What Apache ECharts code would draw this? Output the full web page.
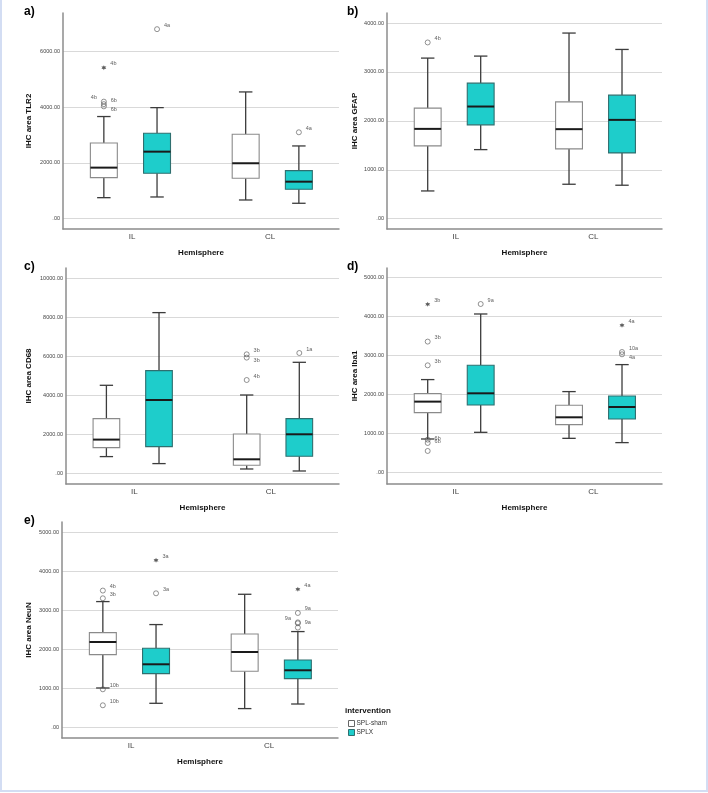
<!DOCTYPE html>
<html>
<head>
<meta charset="utf-8">
<script src="https://cdn.jsdelivr.net/npm/echarts@6/dist/echarts.min.js"></script>
<style>
  html, body { margin: 0; padding: 0; background: #fff; }
  #chart { width: 708px; height: 793px; }
</style>
</head>
<body>
<div id="chart"></div>
<script>
var hemispheres = ['IL', 'CL'];
var groups = ['SPL-sham', 'SPLX'];

// box stats [min, Q1, median, Q3, max], one row per hemisphere (IL, CL)
var tlr2Sham = [[754, 1473, 1832, 2718, 3665], [671, 1450, 1989, 3030, 4548]];
var tlr2Splx = [[779, 1630, 2405, 3066, 3985], [553, 1055, 1328, 1723, 2610]];
var gfapSham = [[567, 1488, 1836, 2260, 3283], [704, 1427, 1830, 2389, 3795]];
var gfapSplx = [[1412, 1918, 2293, 2771, 3324], [684, 1345, 2020, 2526, 3460]];
var cd68Sham = [[843, 1306, 1717, 2797, 4509], [206, 396, 704, 2005, 4010]];
var cd68Splx = [[483, 1357, 3753, 5264, 8246], [103, 859, 1990, 2797, 5691]];
var iba1Sham = [[862, 1538, 1820, 2026, 2385], [879, 1231, 1418, 1726, 2077]];
var iba1Splx = [[1033, 1733, 2033, 2751, 4067], [769, 1374, 1682, 1964, 2769]];
var neunSham = [[1003, 1861, 2185, 2427, 3224], [473, 1432, 1928, 2391, 3412]];
var neunSplx = [[609, 1373, 1612, 2023, 2633], [591, 1244, 1458, 1723, 2453]];

// outliers: [hemisphere, group, value, case tag, kind ('o' outlier, '*' extreme)]
var tlr2Out = [
  ['IL', 'SPL-sham', 5420, '4b', '*'], ['IL', 'SPL-sham', 4200, '4b', 'o'],
  ['IL', 'SPL-sham', 4110, '6b', 'o'], ['IL', 'SPL-sham', 4030, '6b', 'o'],
  ['IL', 'SPLX', 6800, '4a', 'o'], ['CL', 'SPLX', 3100, '4a', 'o']
];
var gfapOut = [['IL', 'SPL-sham', 3603, '4b', 'o']];
var cd68Out = [
  ['CL', 'SPL-sham', 6102, '3b', 'o'], ['CL', 'SPL-sham', 5932, '3b', 'o'],
  ['CL', 'SPL-sham', 4781, '4b', 'o'], ['CL', 'SPLX', 6169, '1a', 'o']
];
var iba1Out = [
  ['IL', 'SPL-sham', 4315, '3b', '*'], ['IL', 'SPL-sham', 3359, '3b', 'o'],
  ['IL', 'SPL-sham', 2751, '3b', 'o'], ['IL', 'SPL-sham', 845, '6b', 'o'],
  ['IL', 'SPL-sham', 760, '6b', 'o'], ['IL', 'SPL-sham', 555, '', 'o'],
  ['IL', 'SPLX', 4323, '9a', 'o'],
  ['CL', 'SPLX', 3777, '4a', '*'], ['CL', 'SPLX', 3092, '10a', 'o'],
  ['CL', 'SPLX', 3033, '4a', 'o']
];
var neunOut = [
  ['IL', 'SPL-sham', 3507, '4b', 'o'], ['IL', 'SPL-sham', 3309, '3b', 'o'],
  ['IL', 'SPL-sham', 969, '10b', 'o'], ['IL', 'SPL-sham', 558, '10b', 'o'],
  ['IL', 'SPLX', 4286, '3a', '*'], ['IL', 'SPLX', 3437, '3a', 'o'],
  ['CL', 'SPLX', 3540, '4a', '*'], ['CL', 'SPLX', 2931, '9a', 'o'],
  ['CL', 'SPLX', 2690, '9a', 'o'], ['CL', 'SPLX', 2666, '9a', 'o'],
  ['CL', 'SPLX', 2555, '', 'o']
];

// y axis ticks and extents
var tlr2Ticks = [0, 2000, 4000, 6000];
var gfapTicks = [0, 1000, 2000, 3000, 4000];
var cd68Ticks = [0, 2000, 4000, 6000, 8000, 10000];
var iba1Ticks = [0, 1000, 2000, 3000, 4000, 5000];
var neunTicks = [0, 1000, 2000, 3000, 4000, 5000];
var tlr2Range = [-370, 7380];
var gfapRange = [-211, 4205];
var cd68Range = [-566, 10540];
var iba1Range = [-292, 5246];
var neunRange = [-283, 5270];

// tag placement for crowded labels: L = left, D = below right, M = level right (default above right)
var tagSide = { 'a:4200': 'L', 'a:4030': 'D', 'c:5932': 'D', 'd:3033': 'D',
  'd:845': 'M', 'd:760': 'M', 'e:2690': 'L', 'e:2666': 'M' };

var panels = [
  { key: 'a', name: 'IHC area TLR2', sham: tlr2Sham, splx: tlr2Splx, out: tlr2Out, ticks: tlr2Ticks, range: tlr2Range,
    grid: { left: 63, top: 13, width: 276, height: 216 }, gap: 30 },
  { key: 'b', name: 'IHC area GFAP', sham: gfapSham, splx: gfapSplx, out: gfapOut, ticks: gfapTicks, range: gfapRange,
    grid: { left: 387, top: 13, width: 275, height: 216 }, gap: 28 },
  { key: 'c', name: 'IHC area CD68', sham: cd68Sham, splx: cd68Splx, out: cd68Out, ticks: cd68Ticks, range: cd68Range,
    grid: { left: 66, top: 268, width: 273, height: 216 }, gap: 33 },
  { key: 'd', name: 'IHC area Iba1', sham: iba1Sham, splx: iba1Splx, out: iba1Out, ticks: iba1Ticks, range: iba1Range,
    grid: { left: 387, top: 268, width: 275, height: 216 }, gap: 28 },
  { key: 'e', name: 'IHC area NeuN', sham: neunSham, splx: neunSplx, out: neunOut, ticks: neunTicks, range: neunRange,
    grid: { left: 62, top: 522, width: 276, height: 216 }, gap: 29 }
];

var FONT = '"Liberation Sans", Arial, sans-serif';
var TEAL = '#1ecdcb';
var BOX_W = 0.19;             // box width in hidden x units
var OFFSET = { 'SPL-sham': -0.185, 'SPLX': 0.19 };
var STAR = 'path://M0,-10L2.4,-4.2L8.7,-5L4.8,0L8.7,5L2.4,4.2L0,10L-2.4,4.2L-8.7,5L-4.8,0L-8.7,-5L-2.4,-4.2Z';

function renderBox(params, api) {
  var x = api.value(0);
  var lo = api.coord([x, api.value(1)]);
  var q1 = api.coord([x, api.value(2)]);
  var md = api.coord([x, api.value(3)]);
  var q3 = api.coord([x, api.value(4)]);
  var hi = api.coord([x, api.value(5)]);
  var w = api.size([BOX_W, 0])[0];
  var cx = lo[0];
  var cap = w / 4;
  var isSham = params.seriesName === 'SPL-sham';
  var wStyle = { stroke: '#3c3c3c', lineWidth: 1.3 };
  return {
    type: 'group',
    children: [
      { type: 'line', shape: { x1: cx, y1: lo[1], x2: cx, y2: q1[1] }, style: wStyle },
      { type: 'line', shape: { x1: cx, y1: q3[1], x2: cx, y2: hi[1] }, style: wStyle },
      { type: 'line', shape: { x1: cx - cap, y1: lo[1], x2: cx + cap, y2: lo[1] }, style: wStyle },
      { type: 'line', shape: { x1: cx - cap, y1: hi[1], x2: cx + cap, y2: hi[1] }, style: wStyle },
      { type: 'rect', shape: { x: cx - w / 2, y: q3[1], width: w, height: q1[1] - q3[1] },
        style: { fill: isSham ? '#fff' : TEAL, stroke: isSham ? '#8a8a8a' : '#2f6f6f', lineWidth: 1.1 } },
      { type: 'line', shape: { x1: cx - w / 2, y1: md[1], x2: cx + w / 2, y2: md[1] },
        style: { stroke: '#1a1a1a', lineWidth: 2 } }
    ]
  };
}

function tickFmt(v) {
  return v === 0 ? '.00' : v.toFixed(2);
}

var option = {
  animation: false,
  backgroundColor: '#fff',
  textStyle: { fontFamily: FONT },
  grid: [], xAxis: [], yAxis: [], series: [],
  legend: {
    orient: 'vertical', left: 348, top: 720, padding: 0,
    itemWidth: 6, itemHeight: 6, itemGap: 2, selectedMode: false,
    textStyle: { fontSize: 6.5, color: '#333', fontFamily: FONT, padding: [0, 0, 0, -3] },
    data: [
      { name: 'SPL-sham', icon: 'rect', itemStyle: { color: '#fff', borderColor: '#666', borderWidth: 1 } },
      { name: 'SPLX', icon: 'rect', itemStyle: { color: TEAL, borderColor: '#2f6f6f', borderWidth: 1 } }
    ]
  },
  graphic: [
    { type: 'rect', silent: true, shape: { x: 1, y: -4, width: 706, height: 795 },
      style: { fill: 'none', stroke: '#d3ddf3', lineWidth: 2 } },
    { type: 'text', left: 345, top: 707,
      style: { text: 'intervention', font: 'bold 8px ' + FONT, fill: '#111' } }
  ]
};

panels.forEach(function (p, i) {
  option.grid.push(p.grid);
  option.graphic.push({
    type: 'text', left: p.grid.left < 200 ? 24 : 347, top: p.grid.top - 7,
    style: { text: p.key + ')', font: 'bold 12px ' + FONT, fill: '#000' }
  });
  option.xAxis.push({
    type: 'category', gridIndex: i, data: hemispheres,
    name: 'Hemisphere', nameLocation: 'middle', nameGap: 20,
    nameTextStyle: { fontSize: 8, fontWeight: 'bold', color: '#111', fontFamily: FONT },
    axisLine: { onZero: false, lineStyle: { color: '#8c8c8c', width: 1.5 } },
    axisTick: { show: false },
    axisLabel: { fontSize: 8, color: '#444', margin: 4, fontFamily: FONT },
    splitLine: { show: false }
  });
  option.xAxis.push({
    type: 'value', gridIndex: i, min: -0.473, max: 1.473, show: false,
    axisLine: { onZero: false }
  });
  option.yAxis.push({
    type: 'value', gridIndex: i, min: p.range[0], max: p.range[1],
    name: p.name, nameLocation: 'middle', nameRotate: 90, nameGap: p.gap,
    nameTextStyle: { fontSize: 8, fontWeight: 'bold', color: '#111', fontFamily: FONT },
    axisLine: { show: true, onZero: false, lineStyle: { color: '#8c8c8c', width: 1.5 } },
    axisTick: { show: false, customValues: p.ticks },
    axisLabel: { customValues: p.ticks, formatter: tickFmt, fontSize: 5.5, color: '#444', margin: 3, fontFamily: FONT },
    splitLine: { show: true, lineStyle: { color: '#d9d9d9', width: 1 } }
  });

  [['SPL-sham', p.sham], ['SPLX', p.splx]].forEach(function (g) {
    option.series.push({
      type: 'custom', name: g[0], xAxisIndex: i * 2 + 1, yAxisIndex: i,
      renderItem: renderBox, silent: true,
      encode: { x: 0, y: [1, 2, 3, 4, 5] },
      data: g[1].map(function (s, h) {
        return [h + OFFSET[g[0]]].concat(s);
      })
    });
  });

  ['o', '*'].forEach(function (kind) {
    var pts = p.out.filter(function (o) { return o[4] === kind; }).map(function (o) {
      var side = tagSide[p.key + ':' + o[2]];
      var lab = { position: 'right', offset: [-1, -4] };
      if (side === 'L') lab = { position: 'left', offset: [1, -4] };
      if (side === 'D') lab = { position: 'right', offset: [-1, 3] };
      if (side === 'M') lab = { position: 'right', offset: [-1, -1] };
      return {
        value: [hemispheres.indexOf(o[0]) + OFFSET[o[1]], o[2], o[3]],
        label: lab
      };
    });
    if (!pts.length) return;
    option.series.push({
      type: 'scatter', xAxisIndex: i * 2 + 1, yAxisIndex: i, silent: true, z: 5,
      symbol: kind === 'o' ? 'circle' : STAR,
      symbolSize: 5,
      itemStyle: kind === 'o'
        ? { color: 'rgba(255,255,255,0)', borderColor: '#555', borderWidth: 0.8 }
        : { color: '#333' },
      label: {
        show: true, fontSize: 5.5, color: '#333', fontFamily: FONT,
        formatter: function (d) { return d.value[2]; }
      },
      data: pts
    });
  });
});

var chart = echarts.init(document.getElementById('chart'), null, { renderer: 'canvas' });
chart.setOption(option);
</script>
</body>
</html>
